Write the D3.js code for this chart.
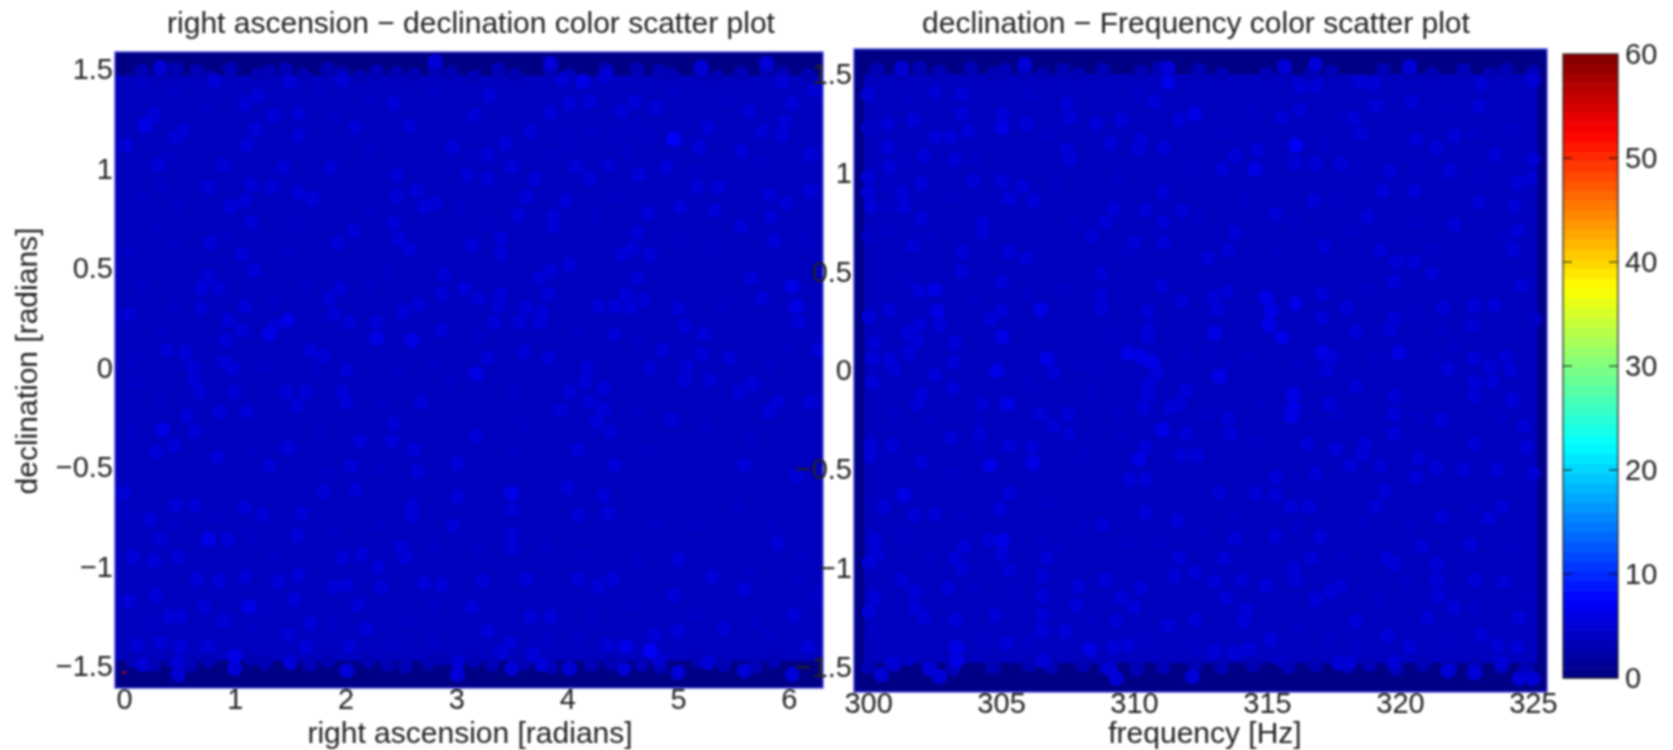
<!DOCTYPE html>
<html>
<head>
<meta charset="utf-8">
<script src="https://cdn.jsdelivr.net/npm/d3@7"></script>
<style>
html, body { margin: 0; background: #fff; }
svg { display: block; filter: blur(0.8px); }
text { font-family: "Liberation Sans", Arial, sans-serif; fill: #222; }
</style>
</head>
<body>
<script>
// values: [right ascension, declination, snr]
var skyPoints = [
[.19,1.22,6],[.27,1.27,5.4],[.31,1.02,5.2],[.47,1.16,5.2],[.53,1.19,5],[.02,1.12,5],[.90,1.02,5],[1.11,1.12,5.6],[1.09,1.33,5],[1.21,1.37,5.2],
[1.35,1.27,5],[1.19,1.20,5.2],[1.58,1.28,5],[1.58,1.17,5],[1.50,1.44,5.2],[.82,1.44,5],[.33,1.51,4.8],[1.44,1.01,5.2],[1.87,1.01,5.4],[.76,.91,5.2],
[1.15,.92,5.2],[1.33,.91,5.2],[1.58,.88,5.4],[1.70,.85,5.2],[1.09,.84,5],[.96,.81,5],[2.46,.97,5.2],[2.58,1.22,5.2],[2.44,1.33,5],[2.09,1.21,5.4],
[1.97,1.45,5],[2.46,.86,5.2],[2.64,.89,5.2],[2.81,.83,5.4],[2.71,.81,5.2],[2.44,.73,5.4],[2.07,.69,5.4],[1.93,.63,5],[2.48,.65,5.4],[2.57,.60,5.6],
[.78,.63,5],[1.15,.73,4.8],[1.07,.57,5],[3.14,.62,5],[3.40,.65,5],[3.40,.57,5],[3.55,.77,5],[3.63,.86,5],[3.71,.95,5],[3.28,.95,5],
[3.50,1.01,5],[3.10,.97,4.8],[2.97,1.11,5],[3.16,1.27,4.8],[3.30,1.37,5.2],[3.67,1.19,5],[3.44,1.13,4.8],[3.28,1.07,5],[4.14,1.44,6.2],[4.35,1.47,5.6],
[3.96,1.45,5.6],[3.85,1.53,5],[2.81,1.54,5],[4.02,1.33,5.2],[4.20,1.34,5.2],[3.85,1.28,5],[4.37,1.02,5.4],[4.20,.95,5],[4.08,1.01,4.8],[4.65,.97,5],
[4.96,1.15,6.8],[5.27,1.21,5.6],[5.19,1.11,5],[4.80,1.31,5.6],[4.49,1.29,5],[4.61,1.34,5],[5.21,1.51,5.2],[5.80,1.53,5],[5.94,1.44,5],[6.23,1.40,5.2],
[6.03,1.33,5],[5.64,1.29,5],[5.96,1.24,5.2],[5.76,1.19,5],[5.94,1.17,5],[6.19,1.07,5],[5.57,1.09,5],[4.90,1.01,5],[5.17,.91,5.2],[5.37,.91,5],
[5.82,.87,5],[5.98,.83,5.2],[6.19,.89,5.4],[4.73,.78,5.4],[5.02,.81,5],[5.33,.79,4.8],[3.98,.84,5.2],[3.87,.76,5.2],[3.87,.71,5.2],[4.63,.68,5.2],
[4.59,.60,5],[4.75,.57,5],[4.49,.57,5],[5.57,.71,5],[5.84,.76,5],[5.86,.64,5],[4.02,.52,5.2],
[.04,.27,5.4],[.70,.30,5.6],[.70,.40,5.4],[.86,.40,5.4],[.76,.46,5.2],[1.17,.49,5.6],[1.09,.31,5.2],[.94,.24,5.2],[1.07,.19,5.4],[1.31,.17,5.8],
[1.48,.24,5.8],[1.37,.21,5.6],[.39,.09,5.6],[.55,.08,5.2],[.92,.14,5.2],[.90,.03,5.4],[.98,0,5.4],[.62,0,5],[.64,-.07,5],[.68,-.12,5],
[1.00,-.12,5],[1.11,-.22,5],[.86,-.22,5],[.57,-.24,5],[.35,-.31,5.8],[.64,-.32,5],[1.46,-.12,5],[1.64,-.12,5.2],[1.56,-.19,5.4],[1.97,-.12,5.4],
[2.01,-.17,5.4],[2.01,-.01,5.4],[1.68,.09,5.6],[1.80,.06,5.4],[1.89,.27,5.4],[1.85,.35,5.2],[1.95,.40,5.2],[2.03,.23,5],[2.28,.23,5.2],[2.28,.15,5.8],
[2.52,.28,5.4],[2.60,.14,6],[2.66,.32,5.6],[2.87,.19,5.6],[2.87,.37,5.6],[2.89,.47,5.4],[3.07,.40,5.2],[3.20,.35,5.2],[3.40,.37,5.2],[3.38,.31,5.4],
[3.34,.23,5.4],[3.57,.23,5.2],[3.63,.30,5],[3.77,.28,5.4],[3.75,.23,5.2],[3.83,.37,5.4],[3.75,.45,5.6],[3.85,.49,5.4],[3.61,.08,5.6],[3.83,.05,5.6],
[3.28,.05,5.6],[3.18,-.03,5.8],[2.68,-.17,5.6],[4.18,0,5.4],[4.16,-.07,5.4],[4.33,-.10,5.4],[4.02,-.12,5.4],[4.20,-.17,5.6],[4.33,-.21,5.6],[4.26,-.27,5.4],
[3.94,-.21,5.6],[4.39,-.32,5.6],[4.28,.31,5.4],[4.43,.31,5.4],[4.57,.30,5.2],[4.69,.34,5.4],[4.53,.37,5.2],[4.63,.45,5.2],[4.43,.17,5.6],[4.75,0,5.6],
[4.86,.09,5.2],[5.08,.01,5.4],[5.21,.07,5.2],[5.06,-.06,5.2],[5.29,-.06,5.6],[5.06,.21,5.4],[5.23,.17,5.6],[5,.30,5],[5.47,.05,5.2],[5.55,-.12,5.6],
[5.67,-.08,5.6],[5.90,-.17,5.6],[5.82,-.22,5.2],[6.19,-.17,5.6],[6.27,.09,5.6],[6.09,.23,5.2],[6.07,.31,5.8],[6.03,.41,5.8],[5.76,.35,5],[5.66,.45,5],
[4.94,-.26,5.2],[3.18,-.34,5.2],[2.44,-.28,5.2],[2.13,-.37,5.2],[2.42,-.37,5.2],[2.62,-.41,5],[1.48,-.40,5],[1.31,-.49,5.4],[.45,-.39,5],[.29,-.42,5],
[.84,-.45,5],[3.01,-.48,5.4],[4.10,-.41,5],[4.43,-.49,5],[5.60,-.49,5.4],[6.07,-.54,5.2],[2.05,-.49,5],[2.65,-.52,5.4],
[0,-.63,5.6],[.47,-.69,5.4],[.64,-.69,5.4],[1.09,-.70,5.2],[.23,-.76,5.2],[1.25,-.74,5.2],[1.60,-.73,5.6],[1.80,-.62,5.4],[2.09,-.61,5.6],[2.60,-.69,5.2],
[2.60,-.74,5.2],[3.01,-.65,5.4],[3.50,-.63,6.2],[3.50,-.71,5.2],[4,-.60,5.4],[4.33,-.64,5.4],[4.10,-.74,5.4],[4.37,-.73,5.2],[2.97,-.79,5.2],[1.56,-.84,5.4],
[.33,-.86,5.2],[.76,-.86,5.8],[.94,-.86,5.2],[3.50,-.84,5.4],[3.50,-.90,5.4],[2.50,-.90,5.2],[2.54,-.95,5.2],[1.97,-.95,5.2],[2.15,-.94,5.4],[2.30,-1,5.2],
[.08,-.95,5.2],[.27,-.97,5.4],[.49,-.95,5.2],[5,-.96,5.2],[5.90,-.88,5],[.66,-1.06,5.2],[.86,-1.07,5.2],[1.09,-1.05,5.2],[1.39,-1.07,5.2],[1.58,-1.04,5.2],
[1.89,-1.10,5.2],[2.01,-1.09,5.2],[2.32,-1.10,5.2],[2.71,-1.08,5.2],[2.87,-1.09,5.4],[3.24,-1.07,5.2],[3.63,-1.06,5.2],[4.10,-1.06,5.2],[4.28,-1.10,5.4],[4.41,-1.06,5.2],
[4.96,-1.14,5.4],[5.31,-1.05,5],[5.60,-1.11,5.2],[.04,-1.17,5.2],[.29,-1.14,5.2],[.72,-1.20,5.4],[1.13,-1.20,5.8],[1.54,-1.16,5.2],[2.11,-1.19,5.2],[3.14,-1.20,5.2],
[3.85,-1.25,5.6],[3.67,-1.25,5.2],[6.05,-1.24,5.4],[.41,-1.25,5.2],[.51,-1.25,5.2],[.90,-1.27,5.2],[1.68,-1.28,5.2],[1.48,-1.34,5.2],[2.19,-1.31,5.2],[3.28,-1.32,5.4],
[.12,-1.39,5.2],[.33,-1.38,5.2],[.51,-1.40,5.2],[.76,-1.40,5.2],[1,-1.45,5.8],[1,-1.51,5],[1.64,-1.40,5.2],[2.03,-1.40,5.2],[2.01,-1.52,5],[1.50,-1.48,5],
[.17,-1.49,5.2],[.49,-1.48,5.2],[.49,-1.54,5],[3.01,-1.48,5.4],[3.01,-1.54,5],[3.40,-1.43,5.4],[3.48,-1.38,5.2],[3.69,-1.44,5.6],[3.77,-1.49,5.2],[3.50,-1.51,5],
[4.02,-1.51,5],[4.37,-1.39,5.4],[4.53,-1.40,5.8],[4.75,-1.42,6.6],[4.78,-1.34,5.2],[5,-1.32,5.2],[5.41,-1.31,5.4],[5.27,-1.48,5.4],[4.82,-1.46,5.2],[4.51,-1.51,5],
[5,-1.53,5],[6.17,-1.40,5.4],[6.03,-1.54,5],[5.60,-1.52,5]
];
// fainter blobs between the bright ones: [right ascension, declination]
var skyFaint = [
[.45,1.38],[.16,1.43],[1.76,1.41],[2.21,1.34],[2.79,1.38],[4.96,1.38],[5.45,1.34],[4.43,1.17],[4.22,1.19],[3.98,1.16],
[4.59,1.21],[4.75,1.17],[2.95,1.09],[3.12,1.07],[3.85,1.07],[4.02,1.11],[4.55,1.09],[5.17,.99],[5.74,1.04],[.41,1.06],
[.33,.92],[.16,.86],[.49,.81],[.29,.71],[.45,.62],[.06,.59],[.94,.67],[1.56,.72],[1.48,.59],[2.21,.79],
[2.21,1.09],[1.89,1.26],[.74,1.31],[3.03,.81],[3.28,.72],[4.26,.76],[4.43,.86],[5.04,.65],[5.29,.60],[6.15,.65],
[.16,.41],[.45,.31],[.33,.18],[.08,.03],[.12,-.07],[.33,-.16],[1.27,.01],[1.35,.33],[1.64,.41],[2.21,.41],
[2.38,.48],[1.72,-.01],[2.46,-.02],[2.79,.01],[2.95,-.07],[2.34,-.19],[3.52,-.12],[3.61,-.29],[4.63,.13],[5.49,.35],
[5.41,.30],[5.82,.01],[5.99,.09],[4.63,-.22],[5.25,-.29],[5.66,-.36],[4.75,-.42],[3.52,-.42],[1.76,-.32],[1.15,-.42],
[.08,-.32],[4.10,.18],[3.20,.16],[1.85,-.53],[2.30,-.51],
[.45,-.79],[.04,-.74],[.82,-.75],[1.35,-.94],[1.15,-.85],[1.89,-.82],[2.30,-.79],[2.79,-.89],[3.20,-.92],[3.81,-.89],
[4.14,-.94],[4.63,-.97],[5.16,-.79],[4.80,-.79],[5.53,-.69],[5.86,-.79],[6.11,-.95],[5.66,-1.02],[6.07,-1.07],[6.23,-1.14],
[4.59,-1.19],[4.22,-1.25],[2.79,-1.20],[2.54,-1.27],[1.89,-1.29],[1.31,-1.20],[.25,-1.29],[1.15,-1.31],[2.79,-1.37],[3.81,-1.37],
[5.70,-1.27],[5.16,-1.24],[5.82,-1.34],[2.42,-1.39],[4.10,-1.36]
];
// dots along the top and bottom edge of the packed region
var skyEdge = [
[.16,1.49],[.33,1.47],[.47,1.50],[.66,1.49],[.78,1.46],[.96,1.50],[1.21,1.47],[1.31,1.49],[1.46,1.50],[1.62,1.47],
[1.84,1.50],[1.97,1.48],[2.13,1.46],[2.28,1.49],[2.46,1.48],[2.62,1.47],[2.81,1.50],[2.95,1.48],[3.16,1.46],[3.38,1.50],
[3.53,1.47],[3.85,1.50],[4.02,1.47],[4.35,1.50],[4.63,1.50],[4.84,1.49],[4.94,1.47],[5.21,1.48],[5.35,1.46],[5.57,1.48],
[5.80,1.50],[5.94,1.48],[6.17,1.47],
[.08,-1.47],[.27,-1.49],[.43,-1.47],[.60,-1.49],[.76,-1.47],[1.15,-1.46],[1.27,-1.48],[1.68,-1.49],[1.84,-1.47],[2.21,-1.47],
[2.38,-1.49],[2.54,-1.50],[2.75,-1.48],[2.87,-1.46],[3.16,-1.47],[3.32,-1.49],[3.61,-1.48],[3.85,-1.50],[4.22,-1.49],[4.39,-1.48],
[4.67,-1.49],[4.84,-1.50],[5.19,-1.47],[5.41,-1.49],[5.70,-1.50],[5.86,-1.47]
];
// the one hot point in the lower left corner
var skyOutliers = [[0.0,-1.53,55]];

// [frequency, declination, snr]
var freqPoints = [
[300,1.40,5],[300,.98,5.4],[300,.90,5.4],[300.1,.83,5.4],[300.75,1.25,5],[300.75,1.13,5],[300.83,1.03,5],[301.26,1.53,4.8],[301.26,.90,5.2],[301.34,.83,5.2],
[301.68,1.27,5.2],[301.68,.63,5],[302,.95,5.2],[302,.77,5.4],[302.1,1.09,5],[302.52,1.41,5],[302.52,1.18,5],[303.1,1.18,5],[303.28,1.07,5.2],[303.53,1.40,5.2],
[303.53,1.30,5.2],[303.78,1.21,5.4],[303.95,.96,5],[303.53,.60,5.2],[304.29,.75,5.2],[304.29,.70,5.2],[305.05,1.23,6],[305.05,1.30,5.2],[305.05,.96,5],[305.3,.87,5.2],
[305.3,.60,5.2],[305.97,1.25,5.4],[306.22,.86,5.2],[305.97,.57,5.2],[305.89,1.55,4.8],[305.8,.93,5],[307.49,1.35,5.2],[307.57,1.28,5.2],[307.49,1.12,5.2],[307.57,1.07,5.2],
[308.58,1.25,5.2],[309.09,1.15,5.2],[309.51,1.27,5.2],[309.26,.82,5.4],[308.92,.75,5.4],[308.41,.68,5.6],[310.01,.65,5.6],[310.18,1.12,5.4],[310.27,1.17,5.2],[310.43,.81,5.4],
[310.77,1.36,5.2],[311.28,1.46,6],[311.28,1.53,5.4],[311.11,1.13,5.2],[311.11,.90,5.2],[311.11,.75,5.4],[311.11,.65,5.4],[311.7,1.27,5.2],[311.78,.81,5.2],[312.29,1.30,5.8],
[312.79,.57,5.2],[313.55,.61,5.2],[313.8,.70,5.4],[313.3,1.02,5.2],[313.8,1.09,5.2],[314.56,1.02,6.2],[314.64,1.12,5.4],[315.32,.79,5.2],[315.57,1.28,5.2],[315.65,1.54,5],
[316.08,1.14,7.2],[316.08,1.05,5.6],[316.24,1.32,5.2],[316.24,1.44,5.4],[316.83,1.44,5.4],[316.83,1.05,5.2],[316.75,.86,5.2],[317.76,1.05,5.4],[317.17,.63,5],[318.52,1.46,5.2],
[319.02,1.45,5.4],[319.11,1.34,5.4],[318.27,1.28,5.2],[318.52,1.20,5],[318.77,.78,5.4],[319.36,.91,5.2],[319.61,1.01,5.2],[319.27,.61,5.4],[320.45,1.36,5.2],[320.54,.91,5],
[320.62,1.17,5],[321.38,1.13,5.2],[322.05,1.19,5.2],[321.88,1.01,5.2],[322.05,.74,5.2],[323.06,1.45,5.2],[322.98,1.34,5.2],[323.57,1.09,5.2],[322.98,.85,5],[324.33,.83,5.2],
[324.41,.71,5.2],[324.24,.61,5.2],[325,1.47,5.2],[325,1.07,5.2],[324.92,.97,5.2],[324.41,.95,5.2],[320.37,1.54,4.8],[316.83,1.55,5],[320.54,.55,5.2],[319.87,.55,5.2],
[302.52,.41,6],[302.6,.30,6],[302.69,.23,5.6],[301.93,.40,5.2],[301.93,.23,5.4],[301.51,.19,5.2],[301.85,.15,5.2],[301.51,.09,5.4],[300.8,.31,5.2],[300.03,.27,5.4],
[300.25,.14,5.4],[300.16,.06,5.2],[300.8,.06,5.4],[300.97,.01,5.4],[300.16,-.06,5.4],[303.28,.14,5.4],[303.23,.04,5.4],[302.52,-.02,5.6],[304.62,.26,5.6],[305.05,.30,5.6],
[305.05,.17,5.8],[305.05,.45,5.2],[303.53,.50,5.2],[306.48,.31,5.8],[304.84,0,5.8],[306.73,.06,5.8],[306.98,-.01,5.2],[302.01,-.12,5.4],[301.85,-.17,5.4],[304.29,-.17,5.4],
[305.25,-.17,5.8],[303.19,-.09,5],[306.48,-.22,5.4],[307.54,-.22,5.6],[306.98,-.28,5.6],[307.54,-.32,5.4],[303.11,-.34,5.4],[304.2,-.32,5.2],[300.08,-.38,5.4],[300.08,-.43,5.4],
[300.92,-.38,5.2],[302.01,-.46,5.6],[304.57,-.48,5.8],[305.3,-.38,5.4],[306.19,-.39,5.6],[306.19,-.47,5.8],[308.75,.38,5.2],[308.75,.31,5.6],[308.75,.49,5.2],[310.52,.30,5.6],
[310.52,.21,5.4],[310.52,.17,5.6],[311.02,.43,5.2],[311.78,.35,5.4],[309.76,.09,5.8],[310.27,.07,5.8],[310.69,.04,5.8],[310.52,-.07,5.4],[310.52,-.12,5.4],[310.86,-.01,5.6],
[311.95,-.10,5.4],[311.7,-.17,5.6],[311.36,-.19,5.6],[310.35,-.19,5.6],[311.07,-.30,6.2],[311.95,-.32,5.4],[313.63,-.32,5.2],[313.55,-.24,5.2],[310.43,-.39,5.4],[310.18,-.45,5.8],
[311.78,-.43,5.6],[312.37,-.43,5.6],[309.84,-.55,5.4],[310.43,-.55,5.4],[313.04,.19,5.8],[313.21,-.03,5.8],[313.13,.31,5.6],[313.47,.40,5.6],[312.96,.37,5.6],[314.98,.37,5.8],
[315.15,.30,5.8],[315.07,.23,5.8],[316.08,.34,5.8],[315.57,.17,5.8],[317.08,.39,5.6],[317.08,.27,5.6],[317.08,.09,5.8],[317.42,.07,5.6],[317.25,0,5.6],[318.01,.32,5.6],
[318.35,.20,5.4],[318.35,-.08,5.6],[315.99,-.12,5.8],[315.99,-.19,6],[315.91,-.23,6],[317.34,-.17,5.6],[319.78,.26,5.6],[319.61,.21,5.4],[319.78,.45,5.4],[319.95,.09,5.8],
[319.78,-.13,5.6],[319.78,-.22,5.6],[321.55,-.25,5.6],[319.78,-.32,5.6],[316.5,-.37,5.4],[317.59,-.40,5.4],[318.69,-.37,5.4],[318.6,-.42,5.4],[320.71,-.44,5.6],[318.1,-.48,5.4],
[319.27,-.48,5.4],[316.83,-.52,5.4],[321.38,-.49,5.4],[320.62,-.54,5.4],[315.32,-.54,5.2],[321.21,.49,5.4],[321.63,.32,5.4],[322.81,.33,5.2],[323.57,.33,5.2],[322.73,.23,5.2],
[324.58,.43,5.4],[322.81,.06,5.4],[323.4,.02,5.4],[323.99,.07,5.2],[324.16,0,5.4],[321.8,.01,5.6],[322.81,-.06,5.4],[323.48,-.06,5.4],[322.81,-.13,5.4],[324.24,-.15,5.2],
[324.66,-.28,5.2],[322.81,-.37,5.2],[324.75,-.39,5.2],[325,-.52,5.6],[323.65,-.50,5.4],[322.39,-.50,5.4],
[301.34,-.63,5.8],[301.76,-.73,5.2],[300.58,-.69,5.2],[302.52,-.73,5.2],[304.96,-.70,5],[305.3,-.62,5],[300.25,-.86,5],[300.33,-.93,5.2],[300.03,-.97,5.4],[304.54,-.86,5.2],
[305.05,-.86,5.8],[305.05,-.93,5.2],[303.61,-.89,5.2],[303.28,-.95,5.2],[303.53,-1,5],[305.3,-1.01,5.2],[306.73,-.95,5.4],[306.56,-1.04,5.4],[306.56,-1.14,5.4],[306.56,-1.24,5.2],
[306.56,-1.32,5.2],[306.56,-1.47,5.2],[301.26,-1.06,5],[301.76,-1.12,5.2],[300.25,-1.15,5.2],[300.03,-1.22,5.2],[303.02,-1.10,5.2],[301.76,-1.20,5.2],[302.1,-1.25,5.2],[303.28,-1.26,5.2],
[304.79,-1.24,5],[307.4,-1.32,5],[305.21,-1.38,5],[303.33,-1.40,5.8],[303.33,-1.47,5.8],[300.92,-1.48,5.2],[302.32,-1.51,5.4],[300.5,-1.54,5],[302.69,-1.55,5],[308.83,-.78,5],
[310.43,-.72,5],[311.61,-.76,5],[311.7,-.95,5.2],[311.53,-1.04,5.2],[312.29,-1.02,5.2],[307.91,-1.09,5],[307.82,-1.19,5.2],[308.92,-1.06,5.2],[309.51,-1.15,5.2],[310.27,-1.10,5.4],
[310.01,-1.20,5.2],[309.34,-1.27,5.2],[308.33,-1.41,6.4],[309.26,-1.40,5.4],[309.76,-1.39,5.4],[311.28,-1.29,5.2],[312.29,-1.26,5.2],[313.04,-1.07,5],[313.38,-.95,5.2],[313.8,-.85,5],
[314.05,-1.06,5.2],[314.98,-1.09,5.4],[313.47,-1.15,5],[314.23,-1.21,5],[314.14,-1.27,5],[313.8,-1.43,5.4],[314.31,-1.41,5.4],[315.15,-1.36,5.2],[313.04,-1.42,5],[309.09,-1.51,5],
[309.34,-1.56,5],[312.2,-1.55,5],[313.21,-.62,5.2],[314.56,-.62,5.2],[315.32,-.63,5.2],[315.32,-.84,5.2],[317,-.84,5.2],[315.91,-.69,5.2],[316.58,-.69,5.2],[316.67,-.95,5.2],
[315.99,-1,5.2],[316.08,-1.06,5.2],[317.76,-1.09,5.6],[317.42,-1.12,5.4],[316.83,-1.16,5.2],[318.35,-1.27,5],[319.53,-.95,5.2],[319.78,-.98,5.2],[319.53,-1.34,5],[320.37,-1.40,5.2],
[318.1,-1.48,5.2],[317.68,-1.48,5.2],[319.44,-.61,5.2],[319.11,-.69,5.2],[320.79,-.89,5.2],[321.55,-.74,5.2],[321.38,-.98,5],[321.38,-1.06,5],[321.46,-1.14,5],[322.05,-1.20,5.2],
[321.04,-1.25,5],[322.64,-.88,5],[322.81,-1.06,5],[323.91,-1.07,5],[323.32,-.75,5],[323.82,-.69,5],[323.06,-1.34,5],[323.65,-1.39,5],[324.41,-1.40,5],[324.49,-1.25,5],
[323.82,-1.48,5],[322.81,-1.53,5],[321.8,-1.52,5],[319.78,-1.48,5],[324.49,-1.56,5],[325,-1.56,5]
];
// fainter blobs: [frequency, declination]
var freqFaint = [
[300.75,.95],[300.75,.83],[300.75,.71],[301.34,1.07],[301.51,1.37],[303.19,.88],[304.03,1.07],[306.06,1.40],[306.73,1.20],[307.07,.95],
[307.74,.75],[309.42,.98],[309.76,.61],[310.10,1.40],[312.12,1.03],[312.45,.78],[313.3,1.20],[314.48,1.32],[314.14,.86],[315.99,.75],
[317.84,1.28],[317.51,.86],[318.35,1.03],[320.54,.75],[320.7,1.03],[321.88,1.33],[322.9,1.20],[323.06,.98],[324.24,1.22],[323.9,.68],
[321.21,.61],[318.18,.71],[315.32,.61],[317.17,1.15],[302.35,.68],[300,.68],[300,1.23],
[301.51,.45],[304.03,.36],[306.06,.38],[307.4,.41],[309.26,.18],[307.99,.03],[308.67,.01],[306.06,-.06],[304.2,-.27],
[304.12,-.39],[309.42,-.22],[309.51,-.34],[311.95,.09],[312.79,.09],[314.31,.08],[313.55,.04],[314.73,-.17],[319.02,.06],[321.37,.08],
[316.16,.03],[317.67,-.22],[320.71,-.24],[318.85,.41],[308.41,-.11],[312.79,-.22],[314.56,-.36],[308.08,-.43],[303.19,-.52],[323.74,-.24],
[322.05,.13],[325.08,.26],[320.54,.30],[321.55,.21],[301,-.22],[302.35,-.26],
[303.53,-.74],[306.73,-.67],[308.08,-.79],[309.76,-.87],[307.23,-.90],[310.94,-.87],[312.62,-.82],[317.84,-.94],[318.68,-.77],[320.37,-.79],
[322.73,-.69],[324.24,-.90],[301.34,-.84],[302.35,-.95],[306.56,-.85],[304.03,-1.10],[305.55,-1.12],[300.33,-1.32],[301.51,-1.46],[304.37,-1.37],
[306.06,-1.37],[308.41,-1.27],[310.43,-1.36],[312.29,-1.41],[316.16,-1.31],[317.34,-1.36],[318.35,-1.41],[315.49,-1.46],[321.72,-1.36],[322.89,-1.20],
[324.75,-1.14],[316.16,-.79],[313.8,-.74],[320.2,-1.07],[319.19,-1.16]
];
var freqEdge = [
[300.33,1.52],[301.26,1.50],[301.93,1.53],[302.69,1.51],[303.87,1.53],[304.71,1.50],[305.13,1.52],[305.89,1.51],[306.56,1.50],[307.32,1.52],
[307.91,1.50],[308.83,1.52],[310.27,1.51],[310.94,1.53],[312.45,1.52],[313.30,1.50],[314.98,1.50],[315.65,1.52],[316.67,1.50],[317.42,1.51],
[319.36,1.52],[320.37,1.51],[321.21,1.50],[322.39,1.52],[323.40,1.50],[323.99,1.52],[325,1.51],
[300,-1.50],[301,-1.49],[302.27,-1.50],[303.19,-1.51],[304.71,-1.50],[306.06,-1.49],[306.9,-1.50],[308.08,-1.49],[308.92,-1.50],[310.1,-1.51],
[311.11,-1.50],[312.29,-1.49],[313.3,-1.50],[314.48,-1.49],[315.82,-1.50],[316.83,-1.49],[318.01,-1.50],[318.85,-1.49],[319.86,-1.51],[320.87,-1.49],
[321.89,-1.50],[322.81,-1.49],[323.82,-1.50],[324.75,-1.51]
];

// snr levels: packed floor, empty rim, faint blobs, edge dots
var floorSnr = 3.75;
var rimSnr = 0.9;
var faintSnr = 4.2;
var edgeSnr = 3.5;

var raTicks = [0, 1, 2, 3, 4, 5, 6];
var freqTicks = [300, 305, 310, 315, 320, 325];
var decTicks = [-1.5, -1, -0.5, 0, 0.5, 1, 1.5];
var snrTicks = [0, 10, 20, 30, 40, 50, 60];

var skyTitle = "right ascension \u2212 declination color scatter plot";
var freqTitle = "declination \u2212 Frequency color scatter plot";

var svg = d3.select("body").append("svg").attr("width", 1673).attr("height", 750);

// jet, 64 steps
function jet(t) {
  function c(v) { return Math.round(255 * Math.max(0, Math.min(1, v))); }
  return d3.rgb(c(1.5 - Math.abs(4 * t - 3)), c(1.5 - Math.abs(4 * t - 2)), c(1.5 - Math.abs(4 * t - 1))).formatHex();
}
var jetColors = d3.range(64).map(function(i) { return jet((i + 0.5) / 64); });
var color = d3.scaleQuantize().domain([0, 60]).range(jetColors);

function with_snr(list, snr) {
  return list.map(function(d) { return [d[0], d[1], snr]; });
}

function draw_panel(id, x, y, floorBox, points, outliers, xTicks, title, xLabel, titleX, labelX) {
  var w = x.range()[1] - x.range()[0], h = y.range()[0] - y.range()[1];
  var g = svg.append("g");

  svg.append("defs").append("clipPath").attr("id", id).append("rect")
    .attr("x", x.range()[0]).attr("y", y.range()[1]).attr("width", w).attr("height", h);

  g.append("rect")
    .attr("x", x.range()[0]).attr("y", y.range()[1]).attr("width", w).attr("height", h)
    .attr("fill", color(rimSnr));

  g.append("rect")
    .attr("x", x(floorBox[0])).attr("y", y(floorBox[3]))
    .attr("width", x(floorBox[1]) - x(floorBox[0])).attr("height", y(floorBox[2]) - y(floorBox[3]))
    .attr("fill", jet(floorSnr / 60));

  var sorted = points.slice().sort(function(a, b) { return d3.ascending(a[2], b[2]); });
  g.append("g").attr("clip-path", "url(#" + id + ")").selectAll("circle").data(sorted).enter().append("circle")
    .attr("cx", function(d) { return x(d[0]); })
    .attr("cy", function(d) { return y(d[1]); })
    .attr("r", 7.5)
    .attr("fill", function(d) { return color(d[2]); });

  g.append("g").selectAll("circle").data(outliers).enter().append("circle")
    .attr("cx", function(d) { return x(d[0]); })
    .attr("cy", function(d) { return y(d[1]); })
    .attr("r", 1.6)
    .attr("fill", function(d) { return color(d[2]); });

  g.append("rect")
    .attr("x", x.range()[0]).attr("y", y.range()[1]).attr("width", w).attr("height", h)
    .attr("fill", "none").attr("stroke", "#4a4ad8").attr("stroke-width", 1.4);

  var yAxis = d3.axisLeft(y).tickValues(decTicks).tickSize(0).tickPadding(2).tickFormat(d3.format("~g"));
  var gy = g.append("g").attr("transform", "translate(" + x.range()[0] + ",0)").call(yAxis);
  gy.select(".domain").remove();
  gy.selectAll("text").attr("font-size", 29).style("font-family", null);

  var xAxis = d3.axisBottom(x).tickValues(xTicks).tickSize(0).tickPadding(0).tickFormat(d3.format("d"));
  var gx = g.append("g").attr("transform", "translate(0," + y.range()[0] + ")").call(xAxis);
  gx.select(".domain").remove();
  gx.selectAll("text").attr("font-size", 29).style("font-family", null);

  g.append("text").attr("x", titleX).attr("y", 33).attr("text-anchor", "middle")
    .attr("font-size", 30).text(title);

  g.append("text").attr("x", labelX).attr("y", 743).attr("text-anchor", "middle")
    .attr("font-size", 30).text(xLabel);
}

// left plot
var raX = d3.scaleLinear().domain([-0.081, 6.308]).range([115, 823]);
var skyY = d3.scaleLinear().domain([-1.608, 1.588]).range([688, 52]);
draw_panel("clipSky", raX, skyY, [-0.081, 6.308, -1.47, 1.47],
  skyPoints.concat(with_snr(skyFaint, faintSnr), with_snr(skyEdge, edgeSnr)), skyOutliers, raTicks,
  skyTitle, "right ascension [radians]", 471, 470);

svg.append("text").attr("transform", "translate(37,361) rotate(-90)").attr("text-anchor", "middle")
  .attr("font-size", 30).text("declination [radians]");

// right plot
var freqX = d3.scaleLinear().domain([299.47, 325.53]).range([854, 1547]);
var freqY = d3.scaleLinear().domain([-1.628, 1.628]).range([692, 49]);
draw_panel("clipFreq", freqX, freqY, [299.85, 325.18, -1.48, 1.50],
  freqPoints.concat(with_snr(freqFaint, faintSnr), with_snr(freqEdge, edgeSnr)), [], freqTicks,
  freqTitle, "frequency [Hz]", 1196, 1205);

// colorbar
var cbY = d3.scaleLinear().domain([0, 60]).range([678, 54]);
var step = 60 / 64;
svg.append("g").selectAll("rect").data(jetColors).enter().append("rect")
  .attr("x", 1563).attr("width", 55)
  .attr("y", function(d, i) { return cbY((i + 1) * step); })
  .attr("height", function() { return cbY(0) - cbY(step) + 0.5; })
  .attr("fill", function(d) { return d; });

svg.append("rect").attr("x", 1563).attr("y", cbY(60)).attr("width", 55).attr("height", cbY(0) - cbY(60))
  .attr("fill", "none").attr("stroke", "#222").attr("stroke-width", 1.2);

var cbAxis = d3.axisRight(cbY).tickValues(snrTicks).tickSize(0).tickPadding(7);
var gc = svg.append("g").attr("transform", "translate(1618,0)").call(cbAxis);
gc.select(".domain").remove();
gc.selectAll("text").attr("font-size", 29).style("font-family", null);

svg.append("g").selectAll("path").data(snrTicks.slice(1, -1)).enter().append("path")
  .attr("d", function(d) {
    return "M1563," + cbY(d) + "h9M1618," + cbY(d) + "h-9";
  })
  .attr("stroke", "#111").attr("stroke-width", 1.2);
</script>
</body>
</html>
